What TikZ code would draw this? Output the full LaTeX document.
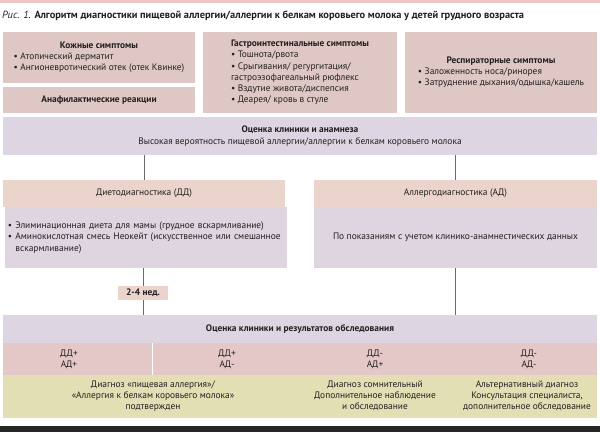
\documentclass[tikz,border=0pt]{standalone}
\usepackage{fontspec}
\setmainfont{PT Sans}
\definecolor{symfill}{HTML}{DEC7C5}
\definecolor{evalfill}{HTML}{DDD5E2}
\definecolor{headfill}{HTML}{EAD4CB}
\definecolor{bodyfill}{HTML}{DED5E0}
\definecolor{rowfill}{HTML}{E4C8C7}
\definecolor{diagfill}{HTML}{E2DFB5}
\definecolor{linkgray}{HTML}{6A6A6A}
\definecolor{textdark}{HTML}{231F20}
\newcommand{\symlist}[2]{\begin{tabular}{@{}l@{}}\multicolumn{1}{@{}c@{}}{\bfseries #1}\\#2\end{tabular}}
\begin{document}
\begin{tikzpicture}[
    x=1pt, y=-1pt,
    every node/.style={font=\fontsize{9.4}{11.2}\selectfont, text=textdark},
    box/.style={rectangle, inner sep=0pt, align=center},
    symptom/.style={box, fill=symfill},
    evalbox/.style={box, fill=evalfill, minimum width=594pt},
    diaghead/.style={box, fill=headfill, minimum width=282pt, minimum height=27pt},
    diagbody/.style={box, fill=bodyfill, minimum width=282pt, minimum height=61pt},
    cell/.style={align=center, inner sep=0pt},
    link/.style={draw=linkgray, line width=0.6pt}
]
\useasboundingbox (0,0) rectangle (600,433);

% Top band and title
\fill[symfill!80!red!60] (0,0) rectangle (600,3);
\node[anchor=west, inner sep=0pt, font=\fontsize{10.4}{12}\selectfont] (title) at (2,16)
    {{\itshape Рис. 1.} \textbf{Алгоритм диагностики пищевой аллергии/аллергии к белкам коровьего молока у детей грудного возраста}};

% Symptoms
\node[symptom, minimum width=192pt, minimum height=51pt] (skin) at (99,57.5)
    {\symlist{Кожные симптомы}{• Атопический дерматит\\• Ангионевротический отек (отек Квинке)}};
\node[symptom, minimum width=192pt, minimum height=26pt] (anaph) at (99,100.5)
    {\textbf{Анафилактические реакции}};
\node[symptom, minimum width=194pt, minimum height=81pt] (gastro) at (300,72.5)
    {\symlist{Гастроинтестинальные симптомы}{• Тошнота/рвота\\• Срыгивания/ регургитация/\\гастроэзофагеальный рюфлекс\\• Вздутие живота/диспепсия\\• Деарея/ кровь в стуле}};
\node[symptom, minimum width=192pt, minimum height=81pt] (resp) at (501,72.5)
    {\symlist{Респираторные симптомы}{• Заложенность носа/ринорея\\• Затруднение дыхания/одышка/кашель}};

% Clinical assessment
\node[evalbox, minimum height=38pt] (anamnesis) at (300,136)
    {\textbf{Оценка клиники и анамнеза}\\Высокая вероятность пищевой аллергии/аллергии к белкам коровьего молока};

% Diet diagnostics
\node[diaghead] (dd) at (144,193.5) {Диетодиагностика (ДД)};
\node[diagbody, text width=276pt, align=left] (ddbody) at (146,237.5)
    {• Элиминационная диета для мамы (грудное вскармливание)\\• Аминокислотная смесь Неокейт (искусственное или смешанное\\\phantom{• }вскармливание)};

% Allergy diagnostics
\node[diaghead, minimum width=283pt] (ad) at (455.5,193.5) {Аллергодиагностика (АД)};
\node[diagbody, minimum width=283pt] (adbody) at (455.5,237.5)
    {По показаниям с учетом клинико-анамнестических данных};

\node[box, fill=headfill, minimum width=50pt, minimum height=14pt] (weeks) at (143,293) {\textbf{2-4 нед.}};

% Results
\node[evalbox, minimum height=28pt] (results) at (300,329)
    {\textbf{Оценка клиники и результатов обследования}};
\node[box, fill=rowfill, minimum width=594pt, minimum height=32pt] (combos) at (300,359) {};
\node[box, fill=diagfill, minimum width=594pt, minimum height=43pt] (verdicts) at (300,396.5) {};
\draw[white, line width=0.8pt] (152,343) -- (152,375);

\node[cell] (pp) at (69,359) {ДД+\\АД+};
\node[cell] (pm) at (227,359) {ДД+\\АД-};
\node[cell] (mp) at (375,359) {ДД-\\АД+};
\node[cell] (mm) at (529,359) {ДД-\\АД-};

\node[cell] (confirmed) at (153,396) {Диагноз «пищевая аллергия»/\\«Аллергия к белкам коровьего молока»\\подтвержден};
\node[cell] (doubtful) at (375,396) {Диагноз сомнительный\\Дополнительное наблюдение\\и обследование};
\node[cell] (alternative) at (527,396) {Альтернативный диагноз\\Консультация специалиста,\\дополнительное обследование};

% Bottom rule
\fill[black!85] (0,426) rectangle (600,432);

% Connections
\draw[link] (anamnesis.south -| dd.north) -- (dd.north);
\draw[link] (anamnesis.south -| ad.north) -- (ad.north);
\draw[link] (ddbody.south -| weeks.north) -- (weeks.north);
\draw[link] (weeks.south) -- (results.north -| weeks.south);
\draw[link] (adbody.south) -- (results.north -| adbody.south);

\end{tikzpicture}
\end{document}
